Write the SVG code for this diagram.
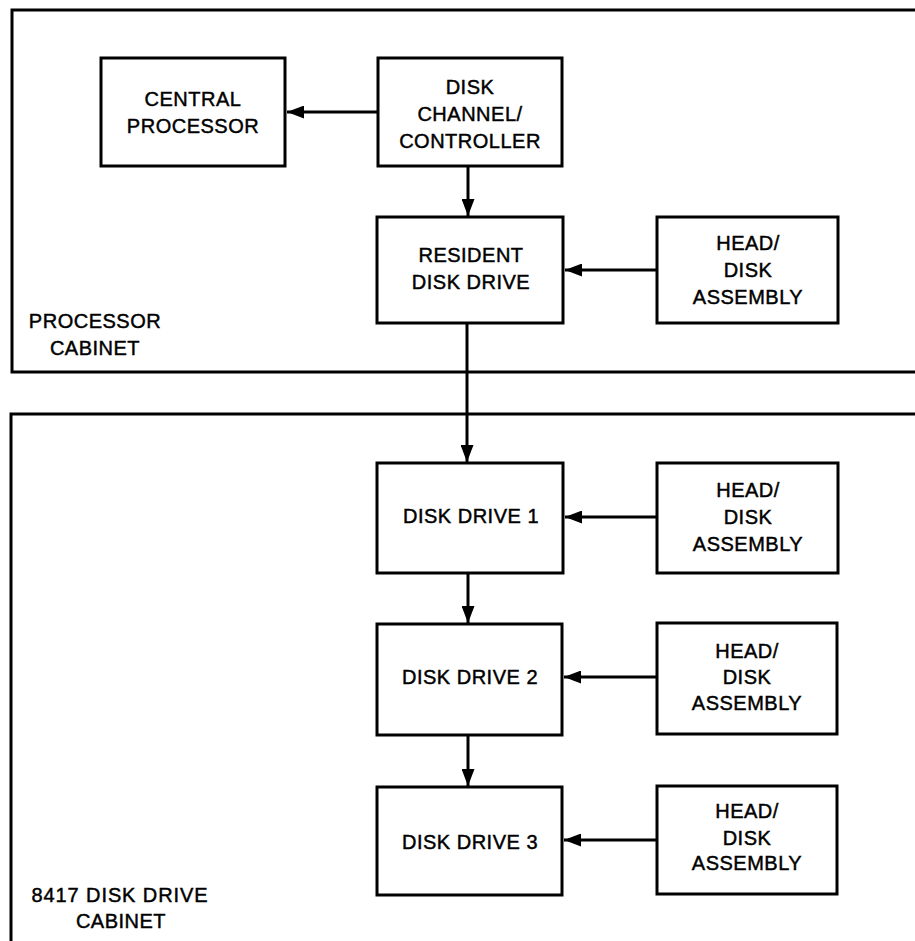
<svg xmlns="http://www.w3.org/2000/svg" width="915" height="941" viewBox="0 0 915 941">
<style>
.box{fill:#fff;stroke:#000;stroke-width:3}
.cab{fill:none;stroke:#000;stroke-width:3}
.ln{fill:none;stroke:#000;stroke-width:3}
text{font-family:"Liberation Sans",Arial,sans-serif;font-size:20px;fill:#000;stroke:#000;stroke-width:0.45;text-anchor:middle;letter-spacing:0.5px}
</style>
<defs>
<marker id="ah" viewBox="0 0 17 13" refX="17" refY="6.5" markerWidth="17" markerHeight="13" markerUnits="userSpaceOnUse" orient="auto">
<path d="M0,0 L17,6.5 L0,13 Z" fill="#000"/>
</marker>
</defs>
<rect width="915" height="941" fill="#fff"/>
<g id="processor-cabinet">
<path class="cab" d="M920,10 H12 V372 H920"/>
<text x="95" y="328">PROCESSOR</text>
<text x="95" y="355">CABINET</text>
</g>
<g id="disk-drive-cabinet">
<path class="cab" d="M920,414 H11 V950"/>
<text x="120" y="902" style="letter-spacing:0.9px">8417 DISK DRIVE</text>
<text x="121" y="928">CABINET</text>
</g>
<g id="connectors">
<line class="ln" x1="378" y1="112" x2="287" y2="112" marker-end="url(#ah)"/>
<line class="ln" x1="468" y1="166" x2="468" y2="216" marker-end="url(#ah)"/>
<line class="ln" x1="657" y1="270" x2="565" y2="270" marker-end="url(#ah)"/>
<line class="ln" x1="467" y1="323" x2="467" y2="462" marker-end="url(#ah)"/>
<line class="ln" x1="657" y1="517" x2="565" y2="517" marker-end="url(#ah)"/>
<line class="ln" x1="468" y1="573" x2="468" y2="623" marker-end="url(#ah)"/>
<line class="ln" x1="657" y1="677" x2="564" y2="677" marker-end="url(#ah)"/>
<line class="ln" x1="468" y1="735" x2="468" y2="786" marker-end="url(#ah)"/>
<line class="ln" x1="657" y1="840" x2="564" y2="840" marker-end="url(#ah)"/>
</g>
<g id="central-processor">
<rect class="box" x="101" y="58" width="184" height="108"/>
<text x="193" y="106">CENTRAL</text>
<text x="193" y="133">PROCESSOR</text>
</g>
<g id="disk-channel-controller">
<rect class="box" x="378" y="58" width="184" height="108"/>
<text x="470" y="94">DISK</text>
<text x="470" y="121">CHANNEL/</text>
<text x="470" y="148">CONTROLLER</text>
</g>
<g id="resident-disk-drive">
<rect class="box" x="377" y="217" width="186" height="106"/>
<text x="471" y="262">RESIDENT</text>
<text x="471" y="289">DISK DRIVE</text>
</g>
<g id="head-disk-assembly-0">
<rect class="box" x="657" y="217" width="181" height="106"/>
<text x="748" y="250">HEAD/</text>
<text x="748" y="277">DISK</text>
<text x="748" y="304">ASSEMBLY</text>
</g>
<g id="disk-drive-1">
<rect class="box" x="377" y="463" width="186" height="110"/>
<text x="471" y="523">DISK DRIVE 1</text>
</g>
<g id="head-disk-assembly-1">
<rect class="box" x="657" y="463" width="181" height="110"/>
<text x="748" y="497">HEAD/</text>
<text x="748" y="524">DISK</text>
<text x="748" y="551">ASSEMBLY</text>
</g>
<g id="disk-drive-2">
<rect class="box" x="377" y="624" width="185" height="111"/>
<text x="470" y="684">DISK DRIVE 2</text>
</g>
<g id="head-disk-assembly-2">
<rect class="box" x="657" y="623" width="180" height="111"/>
<text x="747" y="658">HEAD/</text>
<text x="747" y="684">DISK</text>
<text x="747" y="710">ASSEMBLY</text>
</g>
<g id="disk-drive-3">
<rect class="box" x="377" y="787" width="185" height="108"/>
<text x="470" y="849">DISK DRIVE 3</text>
</g>
<g id="head-disk-assembly-3">
<rect class="box" x="657" y="786" width="180" height="108"/>
<text x="747" y="818">HEAD/</text>
<text x="747" y="845">DISK</text>
<text x="747" y="870">ASSEMBLY</text>
</g>
</svg>
